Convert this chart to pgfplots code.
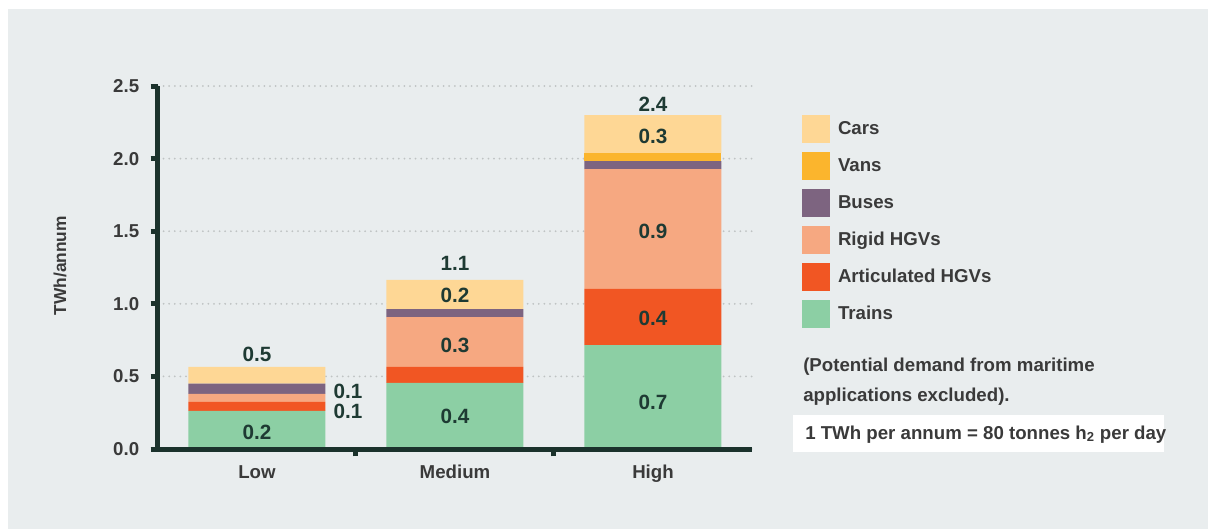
\documentclass[border=0pt]{standalone}
\usepackage{fontspec}
\setmainfont{Liberation Sans}
\usepackage{pgfplots}
\pgfplotsset{compat=1.18}
\definecolor{bg}{HTML}{E9EDEE}
\definecolor{axisc}{HTML}{1B322C}
\definecolor{gridc}{HTML}{BFC3C3}
\definecolor{txt}{HTML}{3A3A3A}
\definecolor{lab}{HTML}{1E3A33}
\definecolor{cars}{HTML}{FED795}
\definecolor{vans}{HTML}{FBB52D}
\definecolor{buses}{HTML}{7D6480}
\definecolor{rigid}{HTML}{F6A881}
\definecolor{artic}{HTML}{F15623}
\definecolor{trains}{HTML}{8CCFA4}
\newcommand{\lbl}{\fontsize{15.5}{17}\selectfont\bfseries\color{lab}}
\begin{document}
\begin{tikzpicture}
\begin{scope}[x=0.75pt,y=0.75pt]
\fill[white] (-158,-80) rectangle (1050,449);
\fill[bg] (-150,-80) rectangle (1050,440);
\end{scope}
\begin{axis}[
  at={(0,0)}, anchor=south west,
  scale only axis, width=445.5pt, height=272.25pt,
  xmin=-0.5, xmax=2.5, ymin=0, ymax=2.5,
  ybar stacked, bar width=102.75pt,
  clip=false,
  axis x line*=bottom, axis y line*=left,
  axis line style={line width=3.75pt, color=axisc},
  xtick={0,1,2}, xticklabels={Low,Medium,High},
  minor xtick={0.5,1.5},
  ytick={0,0.5,1,1.5,2,2.5},
  tick align=outside,
  major tick length=5.6pt, minor tick length=5.6pt,
  major x tick style={draw=none},
  every tick/.style={line width=3.75pt, color=axisc},
  ymajorgrids,
  grid style={color=gridc, line width=1.5pt, dash pattern=on 0pt off 4.2pt, line cap=round},
  ticklabel style={font=\fontsize{14}{16}\selectfont\bfseries, text=txt},
  xticklabel style={yshift=-3pt},
  yticklabel style={xshift=-5pt, /pgf/number format/.cd, fixed, fixed zerofill, precision=1, assume math mode=true},
  ylabel={TWh/annum},
  ylabel style={at={(axis description cs:-0.165,0.505)}, anchor=center, font=\fontsize{13}{15}\selectfont\bfseries, text=txt},
  legend cell align=left,
  reverse legend,
  legend style={at={(axis description cs:1.0842,0.92)}, anchor=north west, draw=none, fill=none,
    inner sep=0pt, outer sep=0pt, row sep=6.75pt,
    nodes={inner sep=0pt, font=\fontsize{14}{16}\selectfont\bfseries, text=txt},
    /tikz/every odd column/.append style={column sep=6pt}},
  legend image code/.code={\fill[#1] (0pt,-10.5pt) rectangle (21pt,10.5pt);},
]
\addplot+[draw=none, fill=trains] coordinates {(0,0.262) (1,0.455) (2,0.716)};
\addlegendentry{Trains}
\addplot+[draw=none, fill=artic] coordinates {(0,0.062) (1,0.110) (2,0.386)};
\addlegendentry{Articulated HGVs}
\addplot+[draw=none, fill=rigid] coordinates {(0,0.055) (1,0.344) (2,0.826)};
\addlegendentry{Rigid HGVs}
\addplot+[draw=none, fill=buses] coordinates {(0,0.071) (1,0.055) (2,0.055)};
\addlegendentry{Buses}
\addplot+[draw=none, fill=vans] coordinates {(0,0) (1,0) (2,0.055)};
\addlegendentry{Vans}
\addplot+[draw=none, fill=cars] coordinates {(0,0.115) (1,0.200) (2,0.262)};
\addlegendentry{Cars}
% label anchors
\coordinate (a1) at (axis cs:0,0.654);
\coordinate (a2) at (axis cs:0.46,0.399);
\coordinate (a3) at (axis cs:0.46,0.262);
\coordinate (a4) at (axis cs:0,0.117);
\coordinate (b1) at (axis cs:1,1.281);
\coordinate (b2) at (axis cs:1,1.061);
\coordinate (b3) at (axis cs:1,0.716);
\coordinate (b4) at (axis cs:1,0.227);
\coordinate (c1) at (axis cs:2,2.376);
\coordinate (c2) at (axis cs:2,2.156);
\coordinate (c3) at (axis cs:2,1.501);
\coordinate (c4) at (axis cs:2,0.902);
\coordinate (c5) at (axis cs:2,0.324);
\end{axis}
\begin{scope}[x=0.75pt,y=0.75pt]
\draw[line width=3.75pt, axisc] (-2.5,0) -- (594,0);
\draw[line width=3.75pt, axisc] (0,-2.5) -- (0,363);
\end{scope}
\foreach \p/\t in {a1/0.5,a2/0.1,a3/0.1,a4/0.2,b1/1.1,b2/0.2,b3/0.3,b4/0.4,c1/2.4,c2/0.3,c3/0.9,c4/0.4,c5/0.7}
  \node[font=\lbl] at (\p) {\t};
\begin{scope}[x=0.75pt,y=0.75pt]
\node[anchor=base west, inner sep=0pt, font=\fontsize{14}{16}\selectfont\bfseries, text=txt] at (645,77) {(Potential demand from maritime};
\node[anchor=base west, inner sep=0pt, font=\fontsize{14}{16}\selectfont\bfseries, text=txt] at (645,47) {applications excluded).};
\fill[white] (635,-3) rectangle (1006,34);
\node[anchor=base west, inner sep=0pt, font=\fontsize{14}{16}\selectfont\bfseries, text=txt] at (647,10) {1 TWh per annum = 80 tonnes h\textsubscript{2} per day};
\pgfresetboundingbox
\path[use as bounding box] (-158,-80) rectangle (1050,449);
\end{scope}
\end{tikzpicture}
\end{document}
